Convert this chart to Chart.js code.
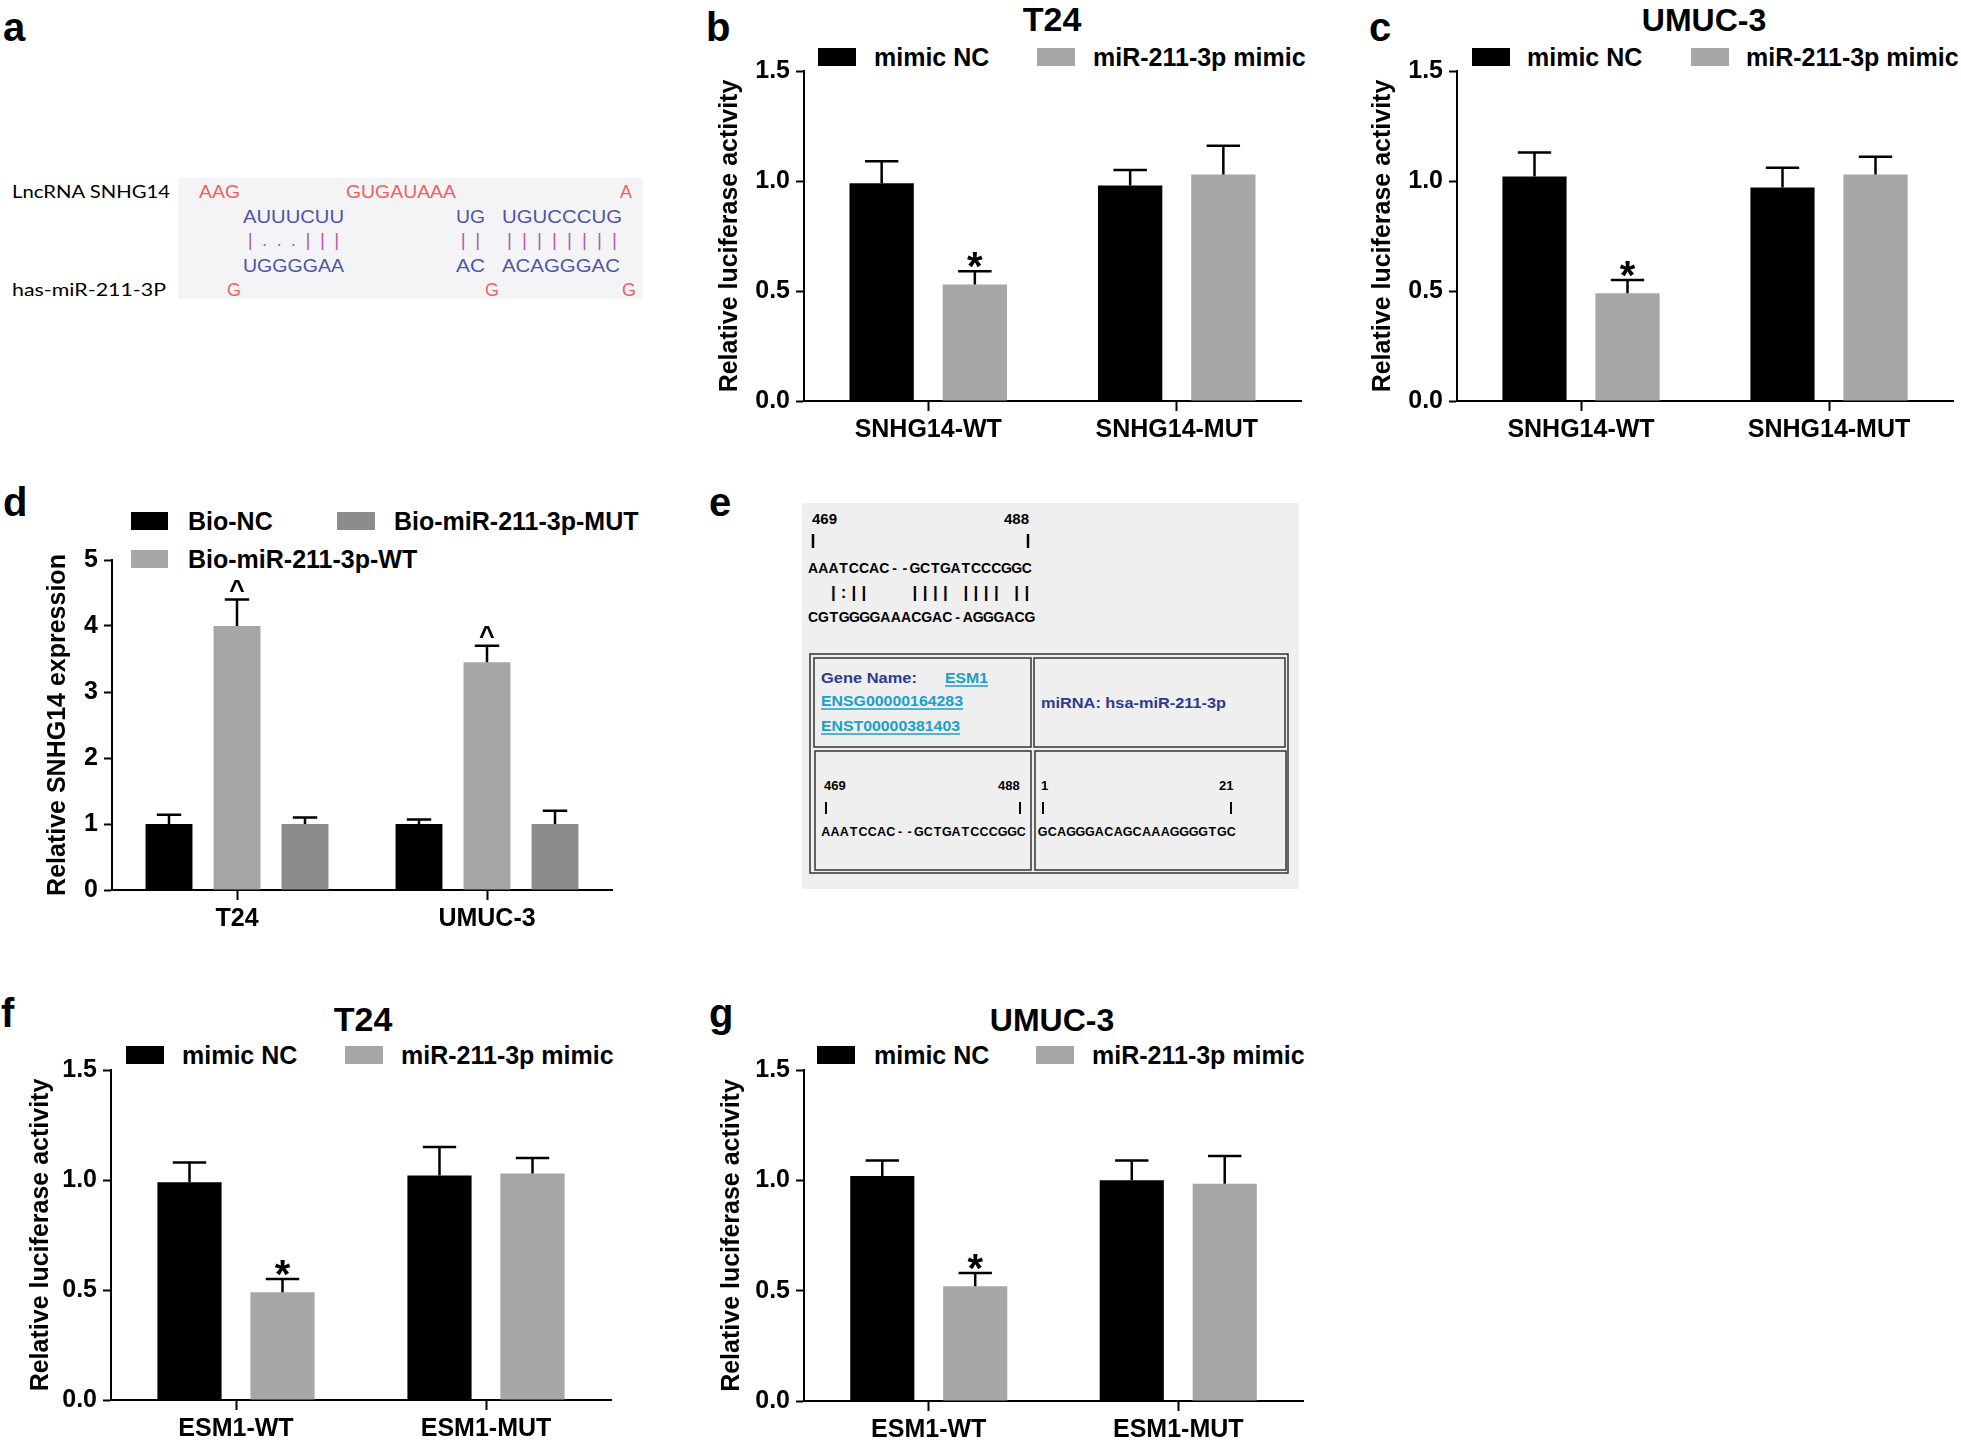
<!DOCTYPE html>
<html><head><meta charset="utf-8">
<script src="https://cdn.jsdelivr.net/npm/chart.js@4.4.1/dist/chart.umd.min.js"></script>
<style>
html,body{margin:0;padding:0;background:#fff;}
#page{position:relative;width:1961px;height:1449px;overflow:hidden;background:#fff;}
canvas{position:absolute;}
#art{position:absolute;left:0;top:0;}
</style></head><body>
<div id="page">
<svg id="art" width="1961" height="1449" xmlns="http://www.w3.org/2000/svg"></svg>
<canvas id="cb"></canvas>
<canvas id="cc"></canvas>
<canvas id="cd"></canvas>
<canvas id="cf"></canvas>
<canvas id="cg"></canvas>
</div>
<script>
// ---------------- DATA ----------------
const lucTicks = [0, 0.5, 1.0, 1.5];
const exprTicks = [0, 1, 2, 3, 4, 5];
const seriesLuc = ['mimic NC', 'miR-211-3p mimic'];
const seriesBio = ['Bio-NC', 'Bio-miR-211-3p-WT', 'Bio-miR-211-3p-MUT'];
const legendBio = ['Bio-NC', 'Bio-miR-211-3p-MUT', 'Bio-miR-211-3p-WT'];

// b: T24, SNHG14 reporter
const catsB = ['SNHG14-WT', 'SNHG14-MUT'];
const ncB = [0.99, 0.98];
const ncErrB = [0.10, 0.07];
const mimicB = [0.53, 1.03];
const mimicErrB = [0.06, 0.13];
const marksB = ['*', ''];

// c: UMUC-3, SNHG14 reporter
const catsC = ['SNHG14-WT', 'SNHG14-MUT'];
const ncC = [1.02, 0.97];
const ncErrC = [0.11, 0.09];
const mimicC = [0.49, 1.03];
const mimicErrC = [0.06, 0.08];
const marksC = ['*', ''];

// d: RNA pull-down
const catsD = ['T24', 'UMUC-3'];
const bioNC = [1.0, 1.0];
const bioNCErr = [0.14, 0.07];
const bioWT = [4.0, 3.45];
const bioWTErr = [0.40, 0.25];
const bioMUT = [1.0, 1.0];
const bioMUTErr = [0.10, 0.20];
const marksD = ['^', '^'];

// f: T24, ESM1 reporter
const catsF = ['ESM1-WT', 'ESM1-MUT'];
const ncF = [0.99, 1.02];
const ncErrF = [0.09, 0.13];
const mimicF = [0.49, 1.03];
const mimicErrF = [0.06, 0.07];
const marksF = ['*', ''];

// g: UMUC-3, ESM1 reporter
const catsG = ['ESM1-WT', 'ESM1-MUT'];
const ncG = [1.02, 1.0];
const ncErrG = [0.07, 0.09];
const mimicG = [0.52, 0.985];
const mimicErrG = [0.06, 0.125];
const marksG = ['*', ''];

// ---------------- STYLE ----------------
const FF = "'Liberation Sans', Arial, Helvetica, sans-serif";
const BLACK = '#000000', GRAY = '#a6a6a6', DGRAY = '#8c8c8c';
const FS = 25;

// ---------------- SVG (panels a, e, titles, legends) ----------------
const NS = 'http://www.w3.org/2000/svg';
const svg = document.getElementById('art');
function el(tag, attrs, text) {
  const e = document.createElementNS(NS, tag);
  for (const k in attrs) e.setAttribute(k, attrs[k]);
  if (text != null) e.textContent = text;
  svg.appendChild(e); return e;
}
function txt(x, y, s, o = {}) {
  const a = {x, y, 'font-family': o.ff || FF, 'font-size': o.size || FS,
    'font-weight': o.weight || 'bold', fill: o.fill || '#000'};
  if (o.anchor) a['text-anchor'] = o.anchor;
  if (o.len) { a.textLength = o.len; a.lengthAdjust = 'spacingAndGlyphs'; }
  if (o.deco) a['text-decoration'] = o.deco;
  return el('text', a, s);
}
function rect(x, y, w, h, fill, stroke, sw) {
  const a = {x, y, width: w, height: h, fill: fill || 'none'};
  if (stroke) { a.stroke = stroke; a['stroke-width'] = sw || 1; }
  return el('rect', a);
}
function line(x1, y1, x2, y2, c, w) { return el('line', {x1, y1, x2, y2, stroke: c, 'stroke-width': w}); }
function spread(x0, x1, y, s, o) {   // one character per even cell
  const w = (x1 - x0) / s.length;
  for (let i = 0; i < s.length; i++) {
    if (s[i] === ' ') continue;
    txt(x0 + (i + 0.5) * w, y, s[i], Object.assign({anchor: 'middle'}, o));
  }
}

// panel letters
const LET = {size: 40};
txt(3, 41, 'a', LET); txt(706, 41, 'b', LET); txt(1369, 41, 'c', LET);
txt(3, 516, 'd', LET); txt(709, 516, 'e', LET); txt(1, 1027, 'f', LET); txt(709, 1027, 'g', LET);

// ---- panel a ----
const RED = '#e8645f', BLU = '#4e55a8', MAG = '#b25cb6';
rect(178, 178, 465, 121, '#f4f4f7');
const LAB = {ff: "Lato, 'Open Sans', sans-serif", weight: 'normal', size: 18};
txt(12, 198, 'LncRNA SNHG14', Object.assign({len: 158}, LAB));
txt(12, 296, 'has-miR-211-3P', Object.assign({len: 154}, LAB));
const SQ = {weight: 'normal', size: 18};
txt(199, 198, 'AAG', Object.assign({fill: RED, len: 41}, SQ));
txt(346, 198, 'GUGAUAAA', Object.assign({fill: RED, len: 110}, SQ));
txt(620, 198, 'A', Object.assign({fill: RED}, SQ));
txt(243, 223, 'AUUUCUU', Object.assign({fill: BLU, len: 101}, SQ));
txt(456, 223, 'UG', Object.assign({fill: BLU, len: 29}, SQ));
txt(502, 223, 'UGUCCCUG', Object.assign({fill: BLU, len: 120}, SQ));
spread(243, 344, 246, '|...|||', {weight: 'normal', size: 19, fill: MAG});
spread(456, 485, 246, '||', {weight: 'normal', size: 19, fill: MAG});
spread(502, 622, 246, '||||||||', {weight: 'normal', size: 19, fill: MAG});
txt(243, 272, 'UGGGGAA', Object.assign({fill: BLU, len: 101}, SQ));
txt(456, 272, 'AC', Object.assign({fill: BLU, len: 29}, SQ));
txt(502, 272, 'ACAGGGAC', Object.assign({fill: BLU, len: 118}, SQ));
txt(227, 296, 'G', Object.assign({fill: RED}, SQ));
txt(485, 296, 'G', Object.assign({fill: RED}, SQ));
txt(622, 296, 'G', Object.assign({fill: RED}, SQ));

// ---- panel e ----
const EB = '#2d3a8e', EC = '#1aa0c8', EL = '#333333';
rect(802, 503, 497, 386, '#efefef');
txt(812, 524, '469', {size: 15}); txt(1004, 524, '488', {size: 15});
line(813, 534, 813, 548, '#000', 2.5); line(1028, 534, 1028, 548, '#000', 2.5);
spread(808, 1032, 573, 'AAATCCAC--GCTGATCCCGGC', {size: 14});
spread(808, 1032, 598, '  |:||    |||| |||| ||', {size: 17});
spread(808, 1035, 622, 'CGTGGGGAAACGAC-AGGGACG', {size: 14});
rect(810, 654, 478, 219, 'none', EL, 1.5);
rect(814, 658, 217, 89, 'none', EL, 1.5);
rect(1034, 658, 251, 89, 'none', EL, 1.5);
rect(815, 751, 216, 119, 'none', EL, 1.5);
rect(1035, 751, 251, 119, 'none', EL, 1.5);
txt(821, 683, 'Gene  Name:', {size: 15, fill: EB, len: 96});
txt(945, 683, 'ESM1', {size: 15, fill: EC, len: 43});
txt(821, 706, 'ENSG00000164283', {size: 15, fill: EC, len: 142});
txt(821, 731, 'ENST00000381403', {size: 15, fill: EC, len: 139});
line(945, 686, 988, 686, EC, 1.3); line(821, 709, 963, 709, EC, 1.3); line(821, 734, 960, 734, EC, 1.3);
txt(1041, 708, 'miRNA:  hsa-miR-211-3p', {size: 15, fill: EB, len: 185});
txt(824, 790, '469', {size: 13}); txt(998, 790, '488', {size: 13});
line(826, 802, 826, 814, '#000', 2); line(1020, 802, 1020, 814, '#000', 2);
spread(821, 1026, 836, 'AAATCCAC--GCTGATCCCGGC', {size: 12.5});
txt(1041, 790, '1', {size: 13}); txt(1219, 790, '21', {size: 13});
line(1043, 802, 1043, 814, '#000', 2); line(1231, 802, 1231, 814, '#000', 2);
spread(1038, 1236, 836, 'GCAGGGACAGCAAAGGGGTGC', {size: 12.5});

// ---- chart titles ----
txt(1052, 31, 'T24', {size: 34, anchor: 'middle'});
txt(1704, 31, 'UMUC-3', {size: 32, anchor: 'middle'});
txt(363, 1031, 'T24', {size: 34, anchor: 'middle'});
txt(1052, 1031, 'UMUC-3', {size: 32, anchor: 'middle'});

// ---- legends ----
function legendPair(bx, y, tx, gx, gtx) {
  rect(bx, y, 38, 18, BLACK); txt(tx, y + 18, seriesLuc[0], {size: FS});
  rect(gx, y, 38, 18, GRAY); txt(gtx, y + 18, seriesLuc[1], {size: FS});
}
legendPair(818, 48, 874, 1037, 1093);
legendPair(1472, 48, 1527, 1691, 1746);
legendPair(126, 1046, 182, 345, 401);
legendPair(817, 1046, 874, 1036, 1092);
rect(131, 512, 37, 18, BLACK); txt(188, 530, legendBio[0], {size: FS});
rect(337, 512, 38, 18, DGRAY); txt(394, 530, legendBio[1], {size: FS});
rect(131, 550, 37, 18, GRAY); txt(188, 568, legendBio[2], {size: FS});

// ---------------- CHARTS ----------------
const errPlugin = {
  id: 'errbars',
  afterDatasetsDraw(chart) {
    const ctx = chart.ctx, y = chart.scales.y;
    chart.data.datasets.forEach((ds, di) => {
      const meta = chart.getDatasetMeta(di);
      meta.data.forEach((bar, i) => {
        const v = ds.data[i], e = ds.errors[i];
        const yb = y.getPixelForValue(v), yt = y.getPixelForValue(v + e);
        const half = bar.width * 0.26;
        ctx.save();
        ctx.strokeStyle = '#000'; ctx.lineWidth = 2.5; ctx.lineCap = 'butt';
        ctx.beginPath();
        ctx.moveTo(bar.x, yb); ctx.lineTo(bar.x, yt);
        ctx.moveTo(bar.x - half, yt); ctx.lineTo(bar.x + half, yt);
        ctx.stroke();
        const m = ds.marks ? ds.marks[i] : '';
        if (m) {
          ctx.fillStyle = '#000'; ctx.textAlign = 'center'; ctx.textBaseline = 'alphabetic';
          if (m === '*') { ctx.font = 'bold 40px ' + FF; ctx.fillText(m, bar.x, yt + 9); }
          else { ctx.font = 'bold 27px ' + FF; ctx.fillText(m, bar.x, yt - 1); }
        }
        ctx.restore();
      });
    });
  }
};

function barChart(id, g, cats, datasets, ticks, ylabel, fmt, catPct) {
  const cv = document.getElementById(id);
  const top = g.T - 20;
  const w = g.R + g.padR - g.left, h = g.B - top + g.xH;
  cv.width = w; cv.height = h;
  cv.style.left = g.left + 'px'; cv.style.top = top + 'px';
  cv.style.width = w + 'px'; cv.style.height = h + 'px';
  const yW = g.L - g.left;
  const font = {family: FF, weight: 'bold', size: FS};
  return new Chart(cv, {
    type: 'bar',
    data: {labels: cats, datasets: datasets.map(d => Object.assign({
      borderWidth: 0, categoryPercentage: catPct, barPercentage: 0.69}, d))},
    plugins: [errPlugin],
    options: {
      responsive: false, animation: false, devicePixelRatio: 1,
      layout: {padding: {top: 20, right: g.padR, bottom: 0, left: 0}},
      plugins: {legend: {display: false}, tooltip: {enabled: false}, title: {display: false}},
      scales: {
        x: {
          type: 'category', offset: true, z: 1,
          grid: {display: true, offset: false, drawOnChartArea: false, drawTicks: true,
                 tickLength: 10, tickWidth: 2, tickColor: '#000'},
          border: {display: true, color: '#000', width: 2},
          ticks: {color: '#000', font, padding: 4, maxRotation: 0, autoSkip: false},
          afterFit: s => { s.height = g.xH; }
        },
        y: {
          min: ticks[0], max: ticks[ticks.length - 1],
          afterBuildTicks: s => { s.ticks = ticks.map(v => ({value: v})); },
          grid: {display: true, drawOnChartArea: false, drawTicks: true,
                 tickLength: 8, tickWidth: 2, tickColor: '#000'},
          border: {display: true, color: '#000', width: 2},
          ticks: {color: '#000', font, padding: 6, callback: fmt},
          title: {display: true, text: ylabel, color: '#000', font, padding: 0},
          afterFit: s => { s.width = yW; }
        }
      }
    }
  });
}

const f1 = v => Number(v).toFixed(1);
const f0 = v => String(Math.round(v));
const LUC = 'Relative luciferase activity';

function lucSets(nc, ncE, mi, miE, marks) {
  return [
    {label: seriesLuc[0], data: nc, errors: ncE, backgroundColor: BLACK},
    {label: seriesLuc[1], data: mi, errors: miE, marks, backgroundColor: GRAY}
  ];
}

barChart('cb', {left: 715, L: 804, T: 70, R: 1301, B: 401, xH: 55, padR: 12},
  catsB, lucSets(ncB, ncErrB, mimicB, mimicErrB, marksB), lucTicks, LUC, f1, 0.75);
barChart('cc', {left: 1368, L: 1457, T: 70, R: 1953, B: 401, xH: 55, padR: 8},
  catsC, lucSets(ncC, ncErrC, mimicC, mimicErrC, marksC), lucTicks, LUC, f1, 0.75);
barChart('cd', {left: 43, L: 112, T: 559, R: 612, B: 890, xH: 55, padR: 12},
  catsD, [
    {label: seriesBio[0], data: bioNC, errors: bioNCErr, backgroundColor: BLACK},
    {label: seriesBio[1], data: bioWT, errors: bioWTErr, marks: marksD, backgroundColor: GRAY},
    {label: seriesBio[2], data: bioMUT, errors: bioMUTErr, backgroundColor: DGRAY}
  ], exprTicks, 'Relative SNHG14 expression', f0, 0.816);
barChart('cf', {left: 26, L: 111, T: 1069, R: 611, B: 1400, xH: 49, padR: 12},
  catsF, lucSets(ncF, ncErrF, mimicF, mimicErrF, marksF), lucTicks, LUC, f1, 0.744);
barChart('cg', {left: 717, L: 804, T: 1069, R: 1303, B: 1401, xH: 48, padR: 12},
  catsG, lucSets(ncG, ncErrG, mimicG, mimicErrG, marksG), lucTicks, LUC, f1, 0.745);
</script>
</body></html>
